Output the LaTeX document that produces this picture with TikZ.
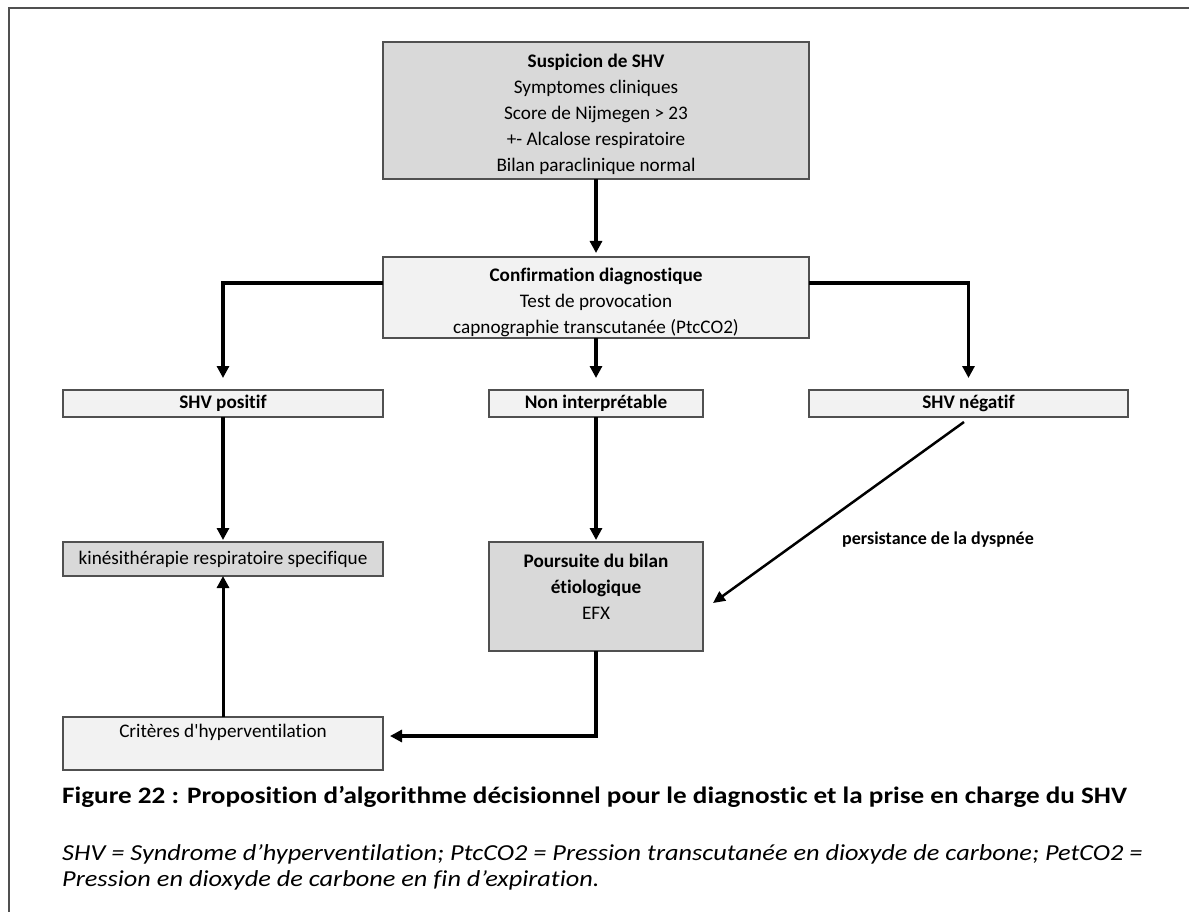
\documentclass[tikz,border=0pt]{standalone}
\usepackage{fontspec}
\setmainfont{Carlito}[Ligatures={TeXOff,NoCommon}]
\newfontfamily\capfont{Carlito}[Ligatures={TeXOff,NoCommon},FakeStretch=1.15]
\usetikzlibrary{arrows.meta,calc}
\definecolor{boxdark}{HTML}{D9D9D9}
\definecolor{boxlight}{HTML}{F2F2F2}
\definecolor{edgecol}{HTML}{505050}
\begin{document}
\begin{tikzpicture}[x=1pt,y=-1pt,
  box/.style={draw=edgecol,line width=1.5pt,inner sep=0pt,outer sep=0pt,align=center,font=\fontsize{19.2}{26}\selectfont},
  darkbox/.style={box,fill=boxdark},
  lightbox/.style={box,fill=boxlight},
  boldtxt/.style={font=\fontsize{19.2}{26}\selectfont\bfseries},
  btxt/.style={align=center,inner sep=0pt,font=\fontsize{19.2}{26}\selectfont},
  captxt/.style={anchor=west,inner sep=0pt},
  flow/.style={line width=3.5pt,-{Triangle[length=12pt,width=12pt]}},
]
\useasboundingbox (0,0) rectangle (1189,912);
\fill[white] (0,0) rectangle (1189,912);
\draw[line width=2pt,edgecol] (9,912) -- (9,8) -- (1189,8);

\node[darkbox,minimum width=426pt,minimum height=137pt] (susp) at (596,110.5) {};
\node[btxt] (suspT) at (596,114.5)
  {\textbf{Suspicion de SHV}\\Symptomes cliniques\\Score de Nijmegen > 23\\+- Alcalose respiratoire\\Bilan paraclinique normal};
\node[lightbox,minimum width=426pt,minimum height=81pt] (conf) at (596,297.5) {};
\node[btxt] (confT) at (596,302)
  {\textbf{Confirmation diagnostique}\\Test de provocation\\capnographie transcutanée (PtcCO2)};

\node[lightbox,boldtxt,minimum width=320pt,minimum height=27pt] (pos) at (223,403.5) {SHV positif};
\node[lightbox,boldtxt,minimum width=214pt,minimum height=27pt] (non) at (596,403.5) {Non interprétable};
\node[lightbox,boldtxt,minimum width=319pt,minimum height=27pt] (neg) at (968.5,403.5) {SHV négatif};

\node[darkbox,minimum width=320pt,minimum height=34pt] (kin) at (223,559) {kinésithérapie respiratoire specifique};
\node[darkbox,minimum width=214pt,minimum height=109pt] (pours) at (596,596.5) {};
\node[btxt] (poursT) at (596,587) {\textbf{Poursuite du bilan}\\\textbf{étiologique}\\EFX};

\node[lightbox,minimum width=320pt,minimum height=53pt] (crit) at (223,743.5) {};
\node[btxt] (critT) at (223,732) {Critères d'hyperventilation};

\draw[flow,shorten >=4pt] (susp) -- (conf);
\draw[flow,shorten >=12pt] ($(conf.north west)+(0,26)$) -| (pos.north);
\draw[flow,shorten >=12pt] ($(conf.north east)+(0,26)$) -| (neg.north);
\draw[flow,shorten >=12pt] (conf.south) -- (non.north);
\draw[flow,shorten >=2pt] (pos) -- (kin);
\draw[flow,shorten >=2pt] (non) -- (pours);
\draw[flow,line width=3pt] (crit) -- (kin);
\draw[flow,shorten >=7pt] (pours.south) |- ($(crit.north east)+(0,19)$);

\coordinate (dstart) at ($(neg.south)+(-4.5,5)$);
\coordinate (dend) at ($(pours.east)+(10,6.5)$);
\draw[line width=2.5pt,-{Triangle[length=12pt,width=11pt]}] (dstart) -- (dend);
\node[anchor=west,inner sep=0pt,font=\fontsize{18}{20}\selectfont\bfseries] (lab) at (842,540) {persistance de la dyspnée};

\node[captxt,font=\capfont\fontsize{23.6}{26}\selectfont\bfseries] (cap) at (62,797)
  {Figure 22 : Proposition d’algorithme décisionnel pour le diagnostic et la prise en charge du SHV};
\node[captxt,font=\capfont\fontsize{22.9}{26}\selectfont\itshape] (leg1) at (62,854)
  {SHV = Syndrome d’hyperventilation; PtcCO2 = Pression transcutanée en dioxyde de carbone; PetCO2 =};
\node[captxt,font=\capfont\fontsize{22.9}{26}\selectfont\itshape] (leg2) at (62,880)
  {Pression en dioxyde de carbone en fin d’expiration.};
\end{tikzpicture}
\end{document}
